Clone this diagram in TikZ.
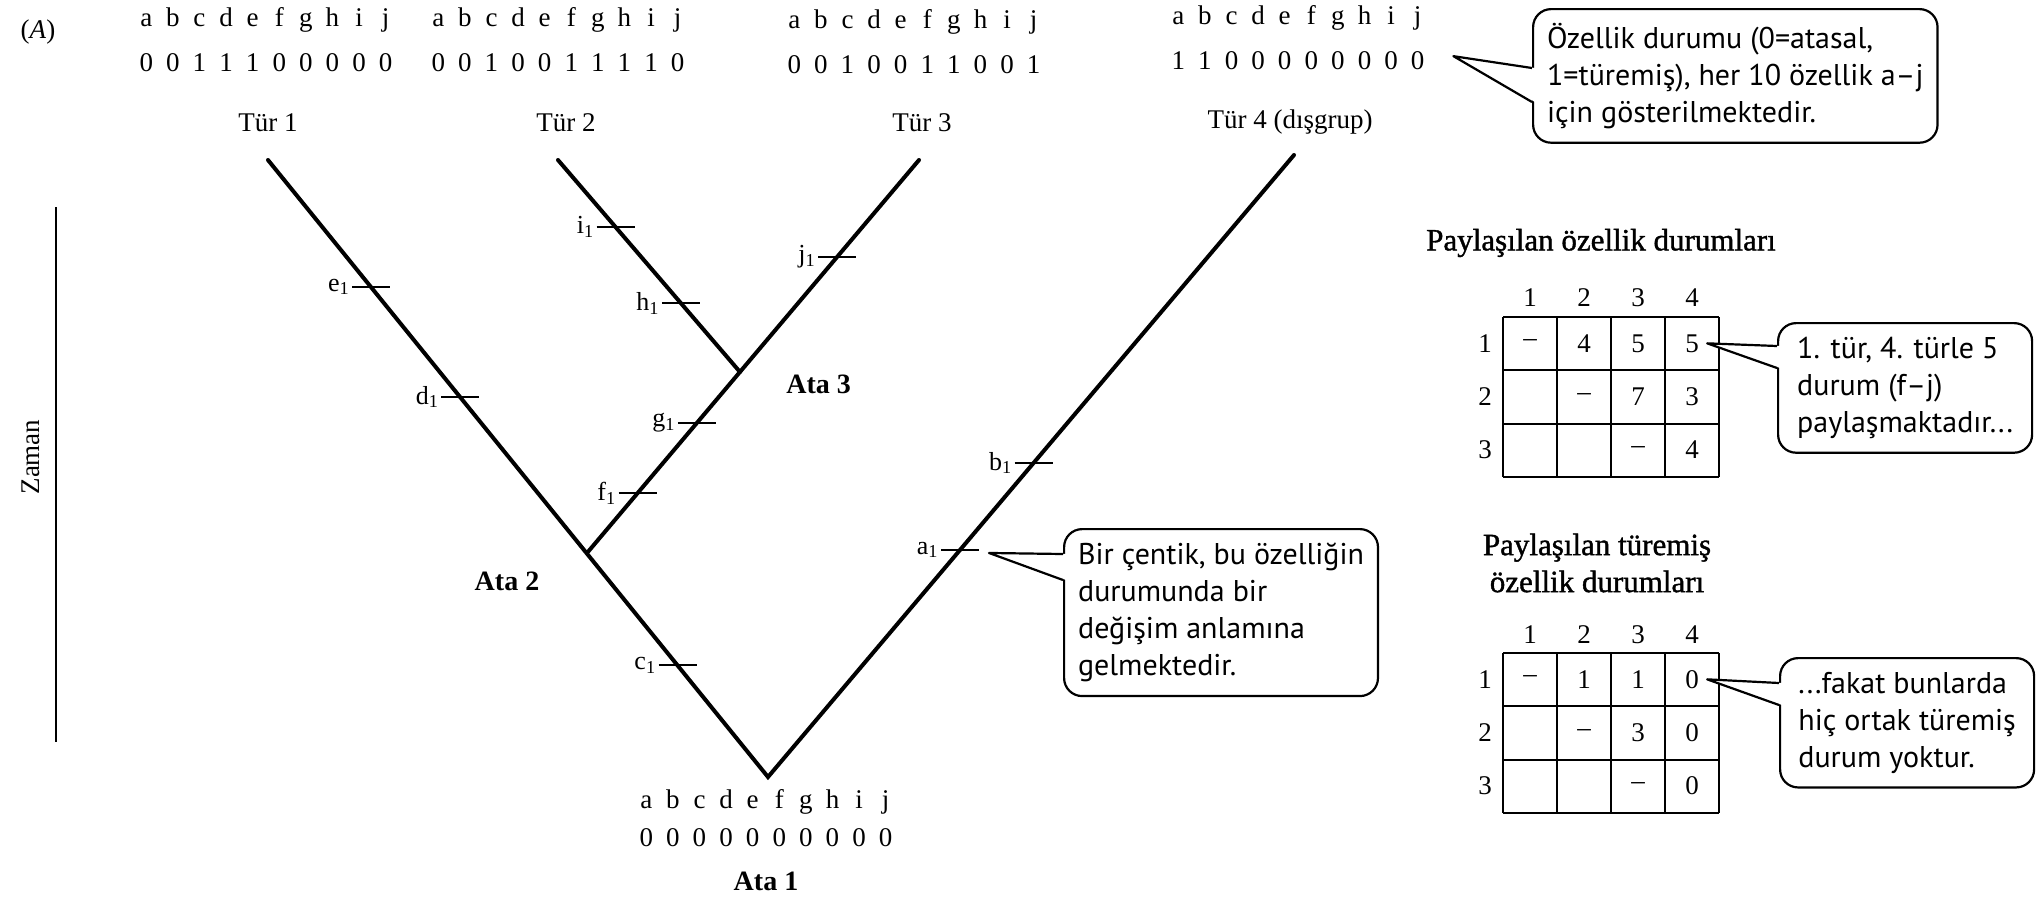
\documentclass[tikz,border=0pt]{standalone}
\usepackage{fontspec}
\setmainfont{Liberation Serif}
\newfontfamily\callfont{PT Sans}
\newfontfamily\semibfont[FakeBold=1.2]{Liberation Serif}
\usetikzlibrary{calc}
\newlength\chpitch
\setlength\chpitch{13.3pt}
\makeatletter
\def\charrow#1{\charrow@#1\relax}
\def\charrow@#1{\ifx#1\relax\else\makebox[\chpitch]{#1}\expandafter\charrow@\fi}
\makeatother
\begin{document}
\begin{tikzpicture}[x=0.5pt,y=-0.5pt,
  branch/.style={line width=2pt,line cap=round},
  notch/.style={line width=0.9pt},
  serif/.style={font=\fontsize{13.5}{16}\selectfont,inner sep=0pt},
  ata/.style={font=\fontsize{14}{16}\selectfont\bfseries,inner sep=0pt},
  sublbl/.style={font=\fontsize{13}{15}\selectfont,inner sep=0pt,anchor=east},
  callout/.style={draw,line width=1.1pt,rounded corners=9pt,align=left,
     font=\callfont\fontsize{15}{18.5}\selectfont,inner xsep=7pt,inner ysep=7pt,anchor=north west},
  tail/.style={line width=1.1pt,line join=round},
  gridline/.style={line width=1.1pt},
  title/.style={font=\semibfont\fontsize{15.5}{18.5}\selectfont,inner sep=0pt,align=center},
  cell/.style={font=\fontsize{13.5}{16}\selectfont,inner sep=0pt}]

\useasboundingbox (0,0) rectangle (2036,901);
\fill[white] (0,0) rectangle (2036,901);

% ---------- (A) and time axis
\node[serif] (lblA) at (38,32) {(\textit{A})};
\coordinate (zt) at (56,207);
\coordinate (zb) at (56,742);
\draw[line width=1pt] (zt) -- (zb);
\node[serif,rotate=90] (zaman) at (31,457) {Zaman};

% ---------- species character blocks
\node[serif,anchor=base] (l1) at (266,26) {\charrow{abcdefghij}};
\node[serif,anchor=base] (d1) at (266,71) {\charrow{0011100000}};
\node[serif,anchor=base] (s1) at (268,131) {Tür 1};

\node[serif,anchor=base] (l2) at (558,26) {\charrow{abcdefghij}};
\node[serif,anchor=base] (d2) at (558,71) {\charrow{0010011110}};
\node[serif,anchor=base] (s2) at (566,131) {Tür 2};

\node[serif,anchor=base] (l3) at (914,28) {\charrow{abcdefghij}};
\node[serif,anchor=base] (d3) at (914,73) {\charrow{0010011001}};
\node[serif,anchor=base] (s3) at (922,131) {Tür 3};

\node[serif,anchor=base] (l4) at (1298,24) {\charrow{abcdefghij}};
\node[serif,anchor=base] (d4) at (1298,69) {\charrow{1100000000}};
\node[serif,anchor=base] (s4) at (1290,128) {Tür 4 (dışgrup)};

\node[serif,anchor=base] (l0) at (766,808) {\charrow{abcdefghij}};
\node[serif,anchor=base] (d0) at (766,846) {\charrow{0000000000}};
\node[ata,anchor=base] (ata1) at (766,890) {Ata 1};

% ---------- tree
\coordinate (T1) at (268,160);
\coordinate (T2) at (558,160);
\coordinate (T3) at (919,160);
\coordinate (T4) at (1294,155);
\coordinate (A2) at (587,553);
\coordinate (A3) at (740,372);
\coordinate (R) at (768,777);

\draw[branch] (T1) -- (R) -- (T4);
\draw[branch] (A2) -- (T3);
\draw[branch] (T2) -- (A3);

\node[ata] (ata2) at (507,581) {Ata 2};
\node[ata,anchor=west] (ata3) at (786,384) {Ata 3};

% ---------- notches
\path (T1) -- (A2) coordinate[pos=0.323] (ne) coordinate[pos=0.603] (nd);
\path (A2) -- (R) coordinate[pos=0.5] (nc);
\path (A2) -- (A3) coordinate[pos=0.331] (nf) coordinate[pos=0.718] (ng);
\path (T2) -- (A3) coordinate[pos=0.316] (ni) coordinate[pos=0.675] (nh);
\path (A3) -- (T3) coordinate[pos=0.542] (nj);
\path (R) -- (T4) coordinate[pos=0.365] (na) coordinate[pos=0.505] (nb);

\foreach \n/\t in {ne/e,nd/d,nc/c,nf/f,ng/g,ni/i,nh/h,nj/j,na/a,nb/b}{
  \draw[notch] ($(\n)+(-19,0)$) -- ($(\n)+(19,0)$);
  \node[sublbl] (lbl-\n) at ($(\n)+(-21,0)$) {\t\textsubscript{1}};
}

% ---------- callout: character states
\node[callout] (co1) at (1532,8) {Özellik durumu (0=atasal,\\1=türemiş), her 10 özellik a–j\\için gösterilmektedir.};
\coordinate (tip1) at ($(d4.east)+(22,-4)$);
\fill[white] ($(co1.north west)+(3,60)$) -- (tip1) -- ($(co1.north west)+(3,94)$) -- cycle;
\draw[tail] ($(co1.north west)+(0,60)$) -- (tip1) -- ($(co1.north west)+(0,94)$);

% ---------- callout: notch
\node[callout] (co2) at (1063,528) {Bir çentik, bu özelliğin\\durumunda bir\\değişim anlamına\\gelmektedir.};
\coordinate (tip2) at ($(na)+(29,3)$);
\fill[white] ($(co2.north west)+(3,26)$) -- (tip2) -- ($(co2.north west)+(3,52)$) -- cycle;
\draw[tail] ($(co2.north west)+(0,26)$) -- (tip2) -- ($(co2.north west)+(0,52)$);

% ---------- table 1
\node[title] (tit1) at (1601,243) {Paylaşılan özellik durumları};
\foreach \i in {0,...,4}{\draw[gridline] (1503+54*\i,317) -- (1503+54*\i,477);}
\foreach \j in {0,...,3}{\draw[gridline] (1503,317+53.33*\j) -- (1719,317+53.33*\j);}
\foreach \c in {1,...,4}{\node[cell] (ha\c) at (1476+54*\c,298) {\c};}
\foreach \r in {1,...,3}{\node[cell] (ra\r) at (1485,290+53.33*\r) {\r};}
\foreach \r/\c/\v in {1/1/–,1/2/4,1/3/5,1/4/5,2/2/–,2/3/7,2/4/3,3/3/–,3/4/4}{
  \node[cell] (ta-\r-\c) at (1476+54*\c,290+53.33*\r) {\v};}

\node[callout,minimum width=127pt] (co3) at (1777,322) {1. tür, 4. türle 5\\durum (f–j)\\paylaşmaktadır...};
\coordinate (tip3) at ($(ta-1-4.east)+(8,0)$);
\fill[white] ($(co3.north west)+(3,24)$) -- (tip3) -- ($(co3.north west)+(3,46)$) -- cycle;
\draw[tail] ($(co3.north west)+(0,24)$) -- (tip3) -- ($(co3.north west)+(0,46)$);

% ---------- table 2
\node[title] (tit2) at (1597,563) {Paylaşılan türemiş\\özellik durumları};
\foreach \i in {0,...,4}{\draw[gridline] (1503+54*\i,653) -- (1503+54*\i,813);}
\foreach \j in {0,...,3}{\draw[gridline] (1503,653+53.33*\j) -- (1719,653+53.33*\j);}
\foreach \c in {1,...,4}{\node[cell] (hb\c) at (1476+54*\c,635) {\c};}
\foreach \r in {1,...,3}{\node[cell] (rb\r) at (1485,626+53.33*\r) {\r};}
\foreach \r/\c/\v in {1/1/–,1/2/1,1/3/1,1/4/0,2/2/–,2/3/3,2/4/0,3/3/–,3/4/0}{
  \node[cell] (tb-\r-\c) at (1476+54*\c,626+53.33*\r) {\v};}

\node[callout,minimum width=127pt] (co4) at (1779,657) {...fakat bunlarda\\hiç ortak türemiş\\durum yoktur.};
\coordinate (tip4) at ($(tb-1-4.east)+(8,0)$);
\fill[white] ($(co4.north west)+(3,26)$) -- (tip4) -- ($(co4.north west)+(3,48)$) -- cycle;
\draw[tail] ($(co4.north west)+(0,26)$) -- (tip4) -- ($(co4.north west)+(0,48)$);
\end{tikzpicture}
\end{document}
